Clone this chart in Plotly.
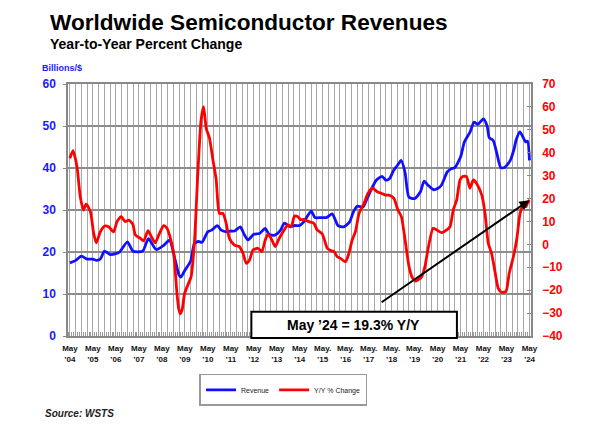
import plotly.graph_objects as go

# Months since May 2004 (0 = May '04, 240 = May '24)
rev_months = [0, 3, 6, 9, 12, 14, 16, 18, 21, 24, 26, 30, 33, 38, 41, 45, 49, 52, 55, 57, 58,
              60, 63, 65, 67, 69, 72, 74, 77, 79, 82, 84, 86, 89, 91, 93, 96, 99, 102, 104, 107,
              110, 112, 115, 117, 120, 122, 126, 128, 131, 134, 137, 140, 143, 146, 148, 150,
              153, 155, 158, 160, 163, 165, 167, 169, 171, 173, 175, 177, 180, 183, 185, 187,
              190, 192, 194, 197, 199, 201, 204, 206, 209, 211, 213, 216, 218, 219, 221, 223,
              225, 227, 230, 232, 233, 235, 237, 238, 239, 240]
rev_values = [17.4, 18.0, 19.0, 18.3, 18.3, 18.0, 18.4, 20.2, 19.4, 19.6, 20.0, 22.4, 20.2, 20.2,
              23.2, 20.6, 21.6, 22.8, 18.0, 14.5, 14.0,
              15.6, 17.8, 22.0, 22.5, 22.3, 24.8, 25.2, 26.3, 25.2, 24.8, 25.0, 25.0, 26.0, 24.2,
              22.9, 24.2, 24.4, 25.6, 24.2, 24.0,
              25.2, 26.9, 26.0, 26.3, 26.3, 27.1, 29.7, 28.2, 28.2, 28.2, 29.1, 26.3, 26.0, 27.1,
              29.5, 30.9, 30.7, 32.5, 35.5, 37.1, 38.0, 37.1, 37.5, 39.4, 40.6, 41.8, 39.0, 33.1,
              32.7, 34.3, 36.9, 35.9, 34.8, 35.1, 35.9, 39.0, 39.8, 40.1, 42.6, 46.2, 48.6, 50.9,
              50.4, 51.7, 49.8, 47.2, 46.6, 43.4, 40.1, 40.1, 41.8, 44.6, 46.6, 48.6, 47.0, 46.2,
              46.4, 41.8]

yoy_months = [0, 1.6, 3.7, 5.4, 7.1, 8.5, 10.7, 12.4, 13.8, 15.9, 18.1, 20.2, 22.8, 24.6, 26.8,
              28.9, 30.7, 32.8, 34.2, 36.8, 38.5, 40.8, 42.8, 44.6, 46.6, 49.0, 50.7, 52.5, 54.2,
              55.9, 56.8, 57.6, 58.6, 59.9, 61.6, 63.3, 65.1, 66.8, 68.5, 69.8, 71.2, 72.9, 74.7,
              76.4, 78.1, 79.9, 81.6, 83.3, 85.9, 88.5, 90.4, 92.1, 93.8, 95.6, 98.2, 100.2, 102.0,
              103.4, 105.1, 107.2, 108.9, 111.3, 113.9, 115.6, 117.3, 119.0, 120.5, 122.2, 124.8,
              127.4, 129.1, 131.8, 134.4, 136.1, 137.9, 139.6, 141.3, 143.9, 145.7, 147.4, 149.1,
              151.0, 153.6, 155.7, 157.9, 160.5, 162.6, 164.8, 166.6, 169.2, 171.3, 173.1, 174.8,
              177.1, 178.8, 180.5, 182.0, 183.7, 185.4, 187.1, 189.7, 191.6, 194.2, 196.8, 198.5,
              200.2, 202.0, 203.7, 205.1, 207.1, 208.9, 210.7, 212.4, 215.1, 216.8, 218.5, 220.2,
              222.0, 223.7, 225.4, 227.7, 229.4, 231.6, 233.3, 235.1, 236.4, 238.2, 238.9, 240]
yoy_values = [37.6, 40.9, 33.9, 20.8, 15.0, 17.6, 14.3, 4.8, 0.7, 5.5, 8.0, 7.7, 5.5, 9.9, 12.1,
              9.9, 10.6, 8.9, 4.1, 2.6, 1.5, 6.0, 2.9, 0.7, 4.5, 8.2, 7.0, 2.6, -3.9,
              -21.4, -28.0, -30.3, -28.6, -21.4, -17.7, -14.1, 1.9, 31.0, 54.3, 60.1, 50.6, 46.3, 36.8,
              28.1, 13.5, 13.5, 9.2, 2.6, -0.3, -1.0, -3.9, -8.3, -6.8, -2.5, -1.7, -3.2, 1.9,
              4.5, 2.6, -1.0, 1.9, 5.5, 8.5, 7.7, 12.4, 12.1, 10.8, 10.9, 9.9,
              9.2, 6.3, 4.5, -1.7, -2.7, -3.2, -5.4, -6.1, -7.6, -3.9, 1.9, 5.5,
              13.5, 17.9, 22.3, 24.5, 23.0, 22.3, 21.5, 21.5, 20.1, 15.0, 12.1, 3.4,
              -9.7, -14.5, -16.0, -15.4, -14.1, -9.7, -1.7, 7.0, 6.3, 5.1, 6.3, 7.7,
              15.0, 19.4, 28.1, 29.6, 29.6, 24.5, 28.1, 26.6, 21.5, 13.5, 0.4, -3.9,
              -11.9, -19.2, -20.9, -20.6, -12.7, -5.4, 1.9, 13.5, 16.5, 16.5, 17.9, 19.3]

year_labels = ["May<br>’04", "May<br>’05", "May<br>’06", "May<br>’07", "May<br>’08",
               "May<br>’09", "May<br>’10", "May<br>’11", "May<br>’12", "May<br>’13",
               "May<br>’14", "May.<br>’15", "May.<br>’16", "May.<br>’17", "May.<br>’18",
               "May.<br>’19", "May<br>’20", "May<br>’21", "May<br>’22", "May<br>’23",
               "May<br>’24"]

latest_label = "May ’24 = 19.3% Y/Y"

FONT = "Liberation Sans, Arial, sans-serif"

quarter_vals = list(range(0, 241, 3))
quarter_text = [year_labels[v // 12] if v % 12 == 0 else "" for v in quarter_vals]

fig = go.Figure()
fig.add_trace(go.Scatter(x=rev_months, y=rev_values, name="Revenue", mode="lines",
                         line=dict(color="#1010ff", width=2.8, shape="spline", smoothing=0.6),
                         yaxis="y"))
fig.add_trace(go.Scatter(x=yoy_months, y=yoy_values, name="Y/Y % Change", mode="lines",
                         line=dict(color="#ff0000", width=2.8, shape="spline", smoothing=0.6),
                         yaxis="y2"))

# page body has an 8px default margin, so the figure is sized to fit the window from there
fig.update_layout(
    width=582, height=438,
    margin=dict(l=60, r=59, t=76, b=110),
    paper_bgcolor="white", plot_bgcolor="white",
    font=dict(family=FONT, color="black"),
    showlegend=True,
    legend=dict(orientation="h", x=0.284, y=-0.15, xanchor="left", yanchor="top",
                bordercolor="#999999", borderwidth=1.5, bgcolor="white",
                font=dict(size=7, family=FONT, color="#222222"),
                itemwidth=30),
    xaxis=dict(range=[-1, 240.8], tickmode="array", tickvals=quarter_vals, ticktext=quarter_text,
               showgrid=True, gridcolor="#a8a8a8", gridwidth=1, ticks="",
               tickfont=dict(size=8, family=FONT, color="#111111", weight="bold"),
               showline=True, linecolor="#888888", linewidth=1.5, mirror=True,
               zeroline=False, ticklabelstandoff=4,
               minor=dict(dtick=1, tick0=0, ticks="inside", ticklen=4, tickcolor="#999999",
                          showgrid=False)),
    yaxis=dict(range=[0, 60], dtick=10, showgrid=True, gridcolor="#8c8c8c", gridwidth=1.5,
               tickfont=dict(size=12, family=FONT, color="#1a1aff", weight="bold"),
               ticks="outside", ticklen=3, tickcolor="#888888",
               showline=True, linecolor="#888888", linewidth=1.5, zeroline=False,
               ticklabelstandoff=5),
    yaxis2=dict(range=[-40, 70], dtick=10, overlaying="y", side="right", showgrid=False,
                tickfont=dict(size=12, family=FONT, color="#ff0000", weight="bold"),
                ticks="inside", ticklen=4, tickcolor="#888888",
                showline=True, linecolor="#888888", linewidth=1.5, zeroline=False,
                ticklabelstandoff=7),
)

# annotation box with arrow
fig.add_shape(type="rect", xref="paper", yref="paper", x0=0.396, x1=0.840, y0=-0.0075, y1=0.096,
              line=dict(color="black", width=2), fillcolor="white", layer="above")
fig.add_annotation(x=0.617, y=0.044, xref="paper", yref="paper", text=f"<b>{latest_label}</b>",
                   showarrow=False, font=dict(size=14, family=FONT, color="black"),
                   xanchor="center", yanchor="middle")
fig.add_annotation(x=yoy_months[-1], y=yoy_values[-1], xref="x", yref="y2",
                   ax=162, ay=-25.7, axref="x", ayref="y2", text="",
                   showarrow=True, arrowhead=2, arrowsize=1, arrowwidth=2, arrowcolor="black")

# titles
fig.add_annotation(x=-0.0432, y=1.246, xref="paper", yref="paper", xanchor="left", yanchor="middle",
                   text="<b>Worldwide Semiconductor Revenues</b>", showarrow=False,
                   font=dict(size=22.6, family=FONT, color="black"))
fig.add_annotation(x=-0.0432, y=1.159, xref="paper", yref="paper", xanchor="left", yanchor="middle",
                   text="<b>Year-to-Year Percent Change</b>", showarrow=False,
                   font=dict(size=14, family=FONT, color="black"))
fig.add_annotation(x=-0.06, y=1.063, xref="paper", yref="paper", xanchor="left", yanchor="middle",
                   text="<b>Billions/$</b>", showarrow=False,
                   font=dict(size=9, family=FONT, color="#1a1aff"))
fig.add_annotation(x=-0.053, y=-0.3075, xref="paper", yref="paper", xanchor="left", yanchor="middle",
                   text="<b><i>Source: WSTS</i></b>", showarrow=False,
                   font=dict(size=10, family=FONT, color="#222222"))

fig.write_html("out.html")
